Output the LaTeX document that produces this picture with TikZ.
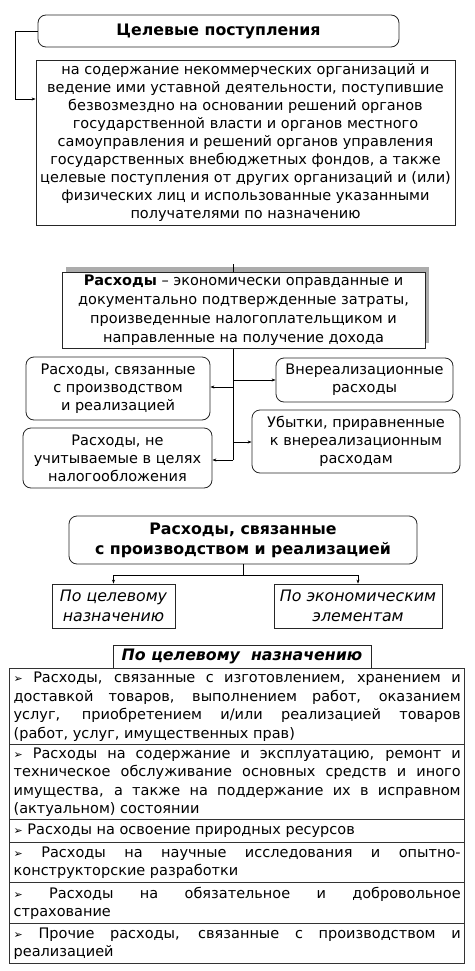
\documentclass[tikz,border=0pt]{standalone}
\usepackage{fontspec}
\setmainfont{DejaVu Sans}
\usetikzlibrary{arrows.meta}
\newcommand{\mybullet}{{\fontsize{11}{11}\selectfont ➢}}
\hyphenpenalty=10000
\tolerance=10000
\begin{document}
\begin{tikzpicture}[x=1pt,y=-1pt,
 every node/.style={font=\fontsize{14.5}{18}\selectfont, inner sep=0pt},
 rbox/.style={draw=black!85, line width=0.8pt, rounded corners=8pt, fill=white, align=center},
 sbox/.style={draw=black!85, line width=0.8pt, fill=white, align=center},
 arr/.style={-{Stealth[length=4pt,width=3pt]}, line width=0.7pt},
 ln/.style={line width=0.7pt},
 rowbox/.style={draw=black!80, line width=1.3pt, anchor=north west, text width=447pt, inner xsep=4pt, inner ysep=0pt, align=justify,
   font=\fontsize{14.5}{18.5}\selectfont}
]
\useasboundingbox (0,0) rectangle (474,971);
\fill[white] (0,0) rectangle (474,971);

% --- Section 1
\node[rbox, minimum width=361pt, minimum height=32pt, font=\fontsize{15.8}{18}\selectfont\bfseries] (t1) at (218.5,31) {Целевые поступления};
\node[sbox, minimum width=419pt, minimum height=165pt] (b1) at (245.5,142.5) {на содержание некоммерческих организаций и\\
ведение ими уставной деятельности, поступившие\\
безвозмездно на основании решений органов\\
государственной власти и органов местного\\
самоуправления и решений органов управления\\
государственных внебюджетных фондов, а также\\
целевые поступления от других организаций и (или)\\
физических лиц и использованные указанными\\
получателями по назначению};
\coordinate (c1) at (15,31);
\coordinate (c2) at (15,99);
\draw[arr] (t1.west) -- (c1) -- (c2) -- (c2 -| b1.west);

% --- Section 2
\fill[gray!65] (66,267) rectangle (429,343);
\coordinate (tr0) at (233,264);
\coordinate (tr1) at (233,460);
\draw[ln] (tr0) -- (tr1);
\node[sbox, minimum width=363pt, minimum height=76pt, font=\fontsize{14.5}{19}\selectfont] (r) at (243.5,310) {\textbf{Расходы} – экономически оправданные и\\
документально подтвержденные затраты,\\
произведенные налогоплательщиком и\\
направленные на получение дохода};
\node[rbox, minimum width=184pt, minimum height=63pt] (l1) at (118,388.5) {Расходы, связанные\\с производством\\и реализацией};
\node[rbox, minimum width=189pt, minimum height=60pt] (l2) at (117.5,458) {Расходы, не\\учитываемые в целях\\налогообложения};
\node[rbox, minimum width=177pt, minimum height=44pt] (q1) at (364.5,380) {Внереализационные\\расходы};
\node[rbox, minimum width=208pt, minimum height=63pt] (q2) at (356,441.5) {Убытки, приравненные\\к внереализационным\\расходам};
\coordinate (a1) at (233,387);
\coordinate (a2) at (233,380);
\coordinate (a3) at (233,442);
\draw[arr] (a1) -- (a1 -| l1.east);
\draw[arr] (a2) -- (a2 -| q1.west);
\draw[arr] (a3) -- (a3 -| q2.west);
\draw[arr] (tr1) -- (tr1 -| l2.east);

% --- Section 3
\node[rbox, minimum width=348pt, minimum height=48pt, font=\fontsize{15.8}{20}\selectfont\bfseries] (p) at (243,540) {Расходы, связанные\\с производством и реализацией};
\node[sbox, minimum width=123pt, minimum height=44pt, font=\fontsize{15.8}{19.5}\selectfont\itshape] (pl) at (113.5,606) {По целевому\\назначению};
\node[sbox, minimum width=168pt, minimum height=44pt, font=\fontsize{15.8}{19.5}\selectfont\itshape] (pr) at (358,606) {По экономическим\\элементам};
\coordinate (m) at (243,575);
\draw[ln] (p.south) -- (m);
\draw[arr] (m) -| (pl.north);
\draw[arr] (m) -| (pr.north);

% --- Section 4
\node[sbox, minimum width=258pt, minimum height=23pt, font=\fontsize{15.8}{18}\selectfont\bfseries\itshape] (h) at (242,656.5) {По целевому\ \ назначению};
\node[rowbox, minimum height=76pt] (row1) at (9,668) {\mybullet\ Расходы, связанные с изготовлением, хранением и\linebreak
доставкой товаров, выполнением работ, оказанием\linebreak
услуг, приобретением и/или реализацией товаров\linebreak
(работ, услуг, имущественных прав)};
\node[rowbox, minimum height=75pt] (row2) at (9,744) {\mybullet\ Расходы на содержание и эксплуатацию, ремонт и\linebreak
техническое обслуживание основных средств и иного\linebreak
имущества, а также на поддержание их в исправном\linebreak
(актуальном) состоянии};
\node[rowbox, minimum height=23pt] (row3) at (9,819) {\mybullet\ Расходы на освоение природных ресурсов};
\node[rowbox, minimum height=40pt] (row4) at (9,842) {\mybullet\ Расходы на научные исследования и опытно-\linebreak
конструкторские разработки};
\node[rowbox, minimum height=41pt] (row5) at (9,882) {\mybullet\ Расходы на обязательное и добровольное\linebreak
страхование};
\node[rowbox, minimum height=40pt] (row6) at (9,923) {\mybullet\ Прочие расходы, связанные с производством и\linebreak
реализацией};
\end{tikzpicture}
\end{document}
